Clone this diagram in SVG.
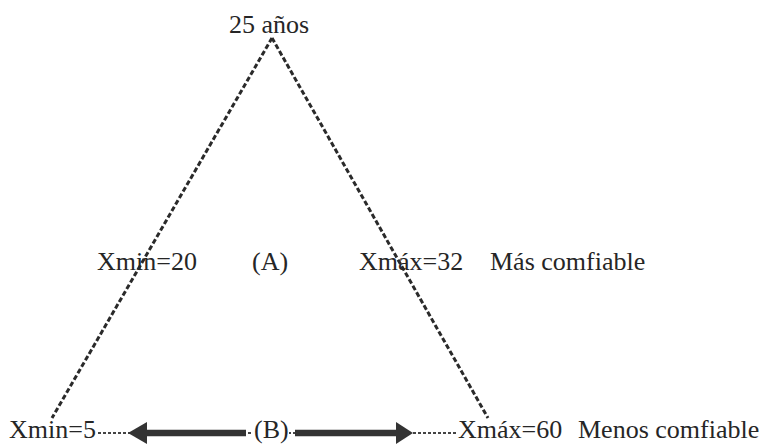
<svg xmlns="http://www.w3.org/2000/svg" width="763" height="444" viewBox="0 0 763 444">
<style>
.t{font-family:"Liberation Serif","Times New Roman",serif;font-size:26px;fill:#262626}
.side{stroke:#2a2a2a;stroke-width:3;stroke-dasharray:5 2.5;fill:none}
.dot{stroke:#444;stroke-width:2;stroke-dasharray:3 2;fill:none}
.thick{stroke:#333;stroke-width:6.5;fill:none}
.head{fill:#333}
</style>
<rect width="763" height="444" fill="#fff"/>
<g id="connectors">
<line class="side" x1="272" y1="38" x2="52" y2="418"/>
<line class="side" x1="272" y1="38" x2="488" y2="418"/>
<line class="dot" x1="98" y1="433" x2="458" y2="433"/>
<line class="thick" x1="246" y1="433" x2="144" y2="433"/>
<polygon class="head" points="128,433 147,422 147,444"/>
<line class="thick" x1="295" y1="433" x2="399" y2="433"/>
<polygon class="head" points="413,433 396,422 396,444"/>
</g>
<g id="apex"><text class="t" x="229" y="33">25 años</text></g>
<g id="xmin20"><text class="t" x="97" y="270">Xmin=20</text></g>
<g id="A"><text class="t" x="252" y="270">(A)</text></g>
<g id="xmax32"><text class="t" x="359" y="270">Xmáx=32</text></g>
<g id="mas"><text class="t" x="490" y="270">Más comfiable</text></g>
<g id="xmin5"><text class="t" x="9" y="438">Xmin=5</text></g>
<g id="B"><rect x="253" y="418" width="36" height="26" fill="#fff"/><text class="t" x="254" y="438">(B)</text></g>
<g id="xmax60"><text class="t" x="458" y="438">Xmáx=60</text></g>
<g id="menos"><text class="t" x="578" y="438">Menos comfiable</text></g>
</svg>
